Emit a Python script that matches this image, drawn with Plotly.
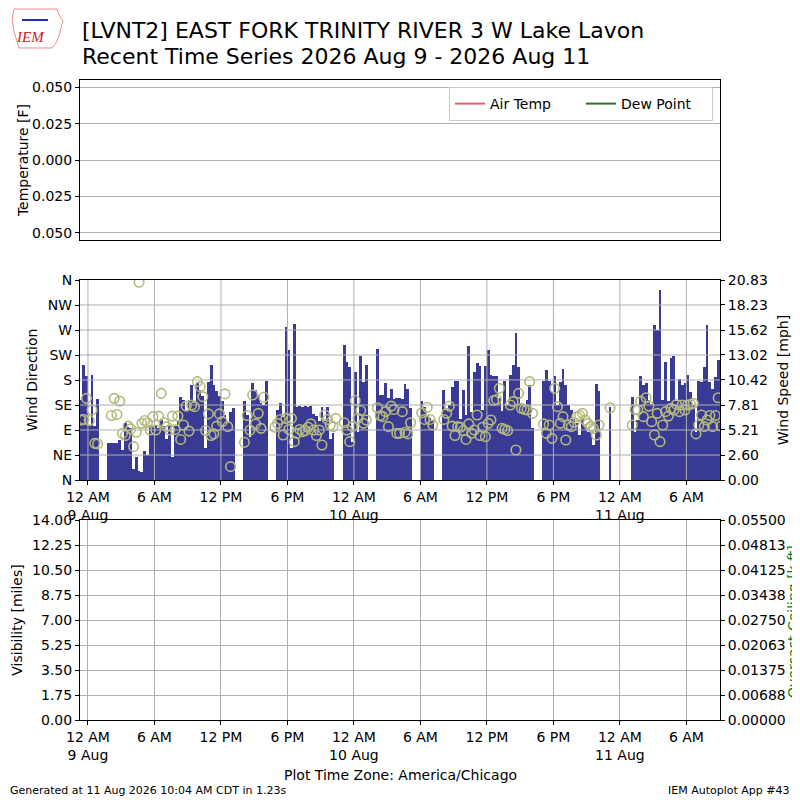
import pandas as pd
import plotly.graph_objects as go

title_lines = ["[LVNT2] EAST FORK TRINITY RIVER 3 W Lake Lavon",
               "Recent Time Series 2026 Aug 9 - 2026 Aug 11"]

# 15 minute observations, first one at 23:22 on 8 Aug (None = missing)
obs_start = "2026-08-08 23:22"
N = None
wind_speed = [
    8.3, 12.0, 10.8, 5.6, 10.9, 5.6, 8.4, N, N, N,
    3.9, 3.9, 3.9, 3.9, 4.2, 3.1, 5.9, 5.5, 5.4, 1.1,
    2.4, 0.9, 0.8, 3.0, 2.6, 5.6, 5.6, 5.7, 5.4, 6.2,
    5.6, 4.3, 5.6, 2.4, 5.6, 6.1, 8.6, 8.3, 7.3, 8.3,
    9.9, 8.0, 10.2, 9.4, 8.7, 3.3, 10.2, 12.0, 9.9, 9.3,
    8.7, 8.2, 6.8, 6.0, 7.1, 7.5, N, N, N, 8.2,
    6.8, 4.5, 10.1, 9.4, 8.9, 8.0, 7.8, 10.3, N, N,
    N, 7.3, 8.0, 6.6, 15.9, 13.5, 3.3, 16.2, 7.6, 7.7,
    7.6, 7.7, 7.6, 7.7, 6.9, 6.7, 6.1, 7.6, 6.1, 7.6,
    4.3, 4.9, N, N, N, 14.1, 12.3, 11.8, 4.0, 11.3,
    5.0, 12.9, 10.2, 12.0, N, N, N, 13.6, 8.9, 8.9,
    10.1, 8.5, 9.5, 8.4, 8.5, 8.5, 8.4, 10.0, 9.5, 7.5,
    N, N, N, 8.2, 7.6, 6.8, 6.5, 6.2, N, N,
    N, 9.4, 7.3, 7.8, 9.7, 10.3, 10.3, 6.4, 9.4, 6.8,
    14.0, 7.1, 11.3, 12.2, 11.9, 7.3, 11.9, 13.5, 10.9, 10.8,
    10.8, 8.5, 7.2, 10.3, 7.8, 10.9, 12.0, 15.3, 11.8, 8.0,
    7.6, 8.3, 9.9, 5.4, N, N, N, 10.3, 11.5, 10.3,
    9.2, 10.8, 7.8, 10.2, 11.6, 9.9, 7.8, 7.3, 6.4, 5.9,
    4.7, 6.4, 5.6, 5.0, 5.0, 3.6, 10.0, 9.3, N, N,
    N, 7.6, N, N, N, N, N, N, N, 8.6,
    5.0, 6.2, 10.8, 9.9, 10.1, 8.3, 7.9, 16.1, 15.6, 19.8,
    8.3, 12.3, 8.2, 12.7, 12.9, 8.2, 10.5, 9.9, 10.1, 10.9,
    9.2, 7.8, 5.0, 10.3, 10.2, 11.8, 16.1, 10.2, 9.5, 10.7,
    12.5, 13.1,
]
wind_dir = [
    108, 109, 147, 107, 126, 66, 65, N, N, N,
    N, 116, 147, 118, 142, 84, 80, 97, 92, 60,
    86, 356, 102, 107, 103, 90, 114, 90, 115, 156,
    103, 96, 90, 115, 91, 115, 73, 99, 133, 88,
    135, 132, 177, 168, 150, 89, 119, 80, 83, 97,
    119, 105, 155, 96, 24, N, N, N, N, 68,
    116, 90, 153, 101, 120, 93, 149, N, N, N,
    95, 102, 109, 81, 111, 91, 111, 69, 84, 91,
    87, 89, 95, 101, 90, 80, 90, 63, 117, 109,
    99, 96, 111, N, N, 103, 90, 69, 96, 143,
    111, 125, 102, 108, N, N, N, 130, 116, 114,
    123, 96, 133, 127, 84, 84, 123, 86, 83, 103,
    N, N, N, 121, 109, 131, 109, 99, N, N,
    N, 109, 120, 133, 97, 80, 96, 95, 89, 73,
    101, 84, 90, 117, 80, 95, 78, 102, 108, 143,
    145, 165, 93, 91, 89, 135, 141, 54, 156, 129,
    127, 126, 177, 120, N, N, N, 101, 84, 99,
    75, 165, 132, 102, 114, 72, 99, 96, 104, 114,
    116, 120, 108, 102, 96, 93, 81, 99, N, N,
    N, 130, N, N, N, N, N, N, N, 99,
    127, 126, 142, 114, 148, 133, 105, 81, 120, 69,
    99, 123, 115, 129, 126, 136, 123, 135, 126, 135,
    136, 138, 83, 99, 117, 96, 108, 116, 96, 116,
    148, 97,
]

time_ticks = ["2026-08-09 00:00", "2026-08-09 06:00", "2026-08-09 12:00",
              "2026-08-09 18:00", "2026-08-10 00:00", "2026-08-10 06:00",
              "2026-08-10 12:00", "2026-08-10 18:00", "2026-08-11 00:00",
              "2026-08-11 06:00"]
time_labels = ["12 AM<br>9 Aug", "6 AM", "12 PM", "6 PM", "12 AM<br>10 Aug",
               "6 AM", "12 PM", "6 PM", "12 AM<br>11 Aug", "6 AM"]
temp_ticks = [-0.05, -0.025, 0, 0.025, 0.05]
temp_labels = ["0.050", "0.025", "0.000", "0.025", "0.050"]
dir_ticks = [0, 45, 90, 135, 180, 225, 270, 315, 360]
dir_labels = ["N", "NE", "E", "SE", "S", "SW", "W", "NW", "N"]
speed_ticks = [0, 2.60, 5.21, 7.81, 10.42, 13.02, 15.62, 18.23, 20.83]
vis_ticks = [0, 1.75, 3.5, 5.25, 7, 8.75, 10.5, 12.25, 14]
ceil_ticks = [0, 0.006875, 0.01375, 0.020625, 0.0275, 0.034375, 0.04125, 0.048125, 0.055]
ceil_labels = ["0.00000", "0.00688", "0.01375", "0.02063", "0.02750",
               "0.03438", "0.04125", "0.04813", "0.05500"]

valid = pd.date_range(obs_start, periods=len(wind_speed), freq="15min")
xrange_ = ["2026-08-08 23:17", "2026-08-11 09:02"]

FONT = "DejaVu Sans"
GRID = "#b0b0b0"
FS = 14

# the page body adds an 8px margin, so lay out on 792px and shift by 8
W = 792
OFF = 8


def fx(p):
    return (p - OFF) / W


def fy(p):
    return 1 - (p - OFF) / W


fig = go.Figure()

# temperature panel (no data)
fig.add_trace(go.Scatter(x=[valid[0]], y=[None], mode="lines", name="Air Temp",
                         line=dict(color="#e06070", width=2), xaxis="x", yaxis="y"))
fig.add_trace(go.Scatter(x=[valid[0]], y=[None], mode="lines", name="Dew Point",
                         line=dict(color="#2f6b33", width=2), xaxis="x", yaxis="y"))

# wind
fig.add_trace(go.Bar(x=valid, y=wind_speed, width=15 * 60 * 1000,
                     marker=dict(color="#393996", line=dict(width=0)),
                     xaxis="x2", yaxis="y2", showlegend=False))
fig.add_trace(go.Scatter(x=valid, y=wind_dir, mode="markers",
                         marker=dict(symbol="circle-open", size=9.5, color="#b5b97c",
                                     line=dict(width=1.6)),
                         xaxis="x2", yaxis="y3", showlegend=False))

# visibility / ceiling panel (no data)
fig.add_trace(go.Scatter(x=[valid[0]], y=[None], mode="lines", xaxis="x3", yaxis="y4",
                         showlegend=False))
fig.add_trace(go.Scatter(x=[valid[0]], y=[None], mode="lines", xaxis="x3", yaxis="y5",
                         showlegend=False))

tick_font = dict(family=FONT, size=FS, color="black")
frame = dict(showline=True, linecolor="black", linewidth=1, mirror=True,
             ticks="outside", ticklen=4, tickcolor="black", tickfont=tick_font,
             zeroline=False, automargin=False)
side_axis = dict(showline=True, linecolor="black", linewidth=1, ticks="outside", ticklen=4,
                 tickcolor="black", tickfont=tick_font, zeroline=False, automargin=False,
                 showgrid=False)
xdom = [fx(80), fx(720)]

fig.update_layout(
    width=W, height=W,
    margin=dict(l=0, r=0, t=0, b=0, autoexpand=False),
    paper_bgcolor="white", plot_bgcolor="white",
    font=dict(family=FONT, size=FS, color="black"),
    bargap=0,
    legend=dict(x=fx(713), y=fy(87), xanchor="right", yanchor="top", orientation="h",
                bgcolor="white", bordercolor="#cccccc", borderwidth=1,
                font=dict(family=FONT, size=FS), itemwidth=30, entrywidth=86),
    xaxis=dict(domain=xdom, anchor="y", range=xrange_, type="date",
               showline=True, linecolor="black", mirror=True, showticklabels=False,
               showgrid=False, ticks="", zeroline=False, automargin=False),
    yaxis=dict(domain=[fy(240), fy(80)], anchor="x", range=[-0.055, 0.055],
               tickvals=temp_ticks, ticktext=temp_labels, showgrid=True, gridcolor=GRID,
               title=dict(text="Temperature [F]", font=tick_font, standoff=0), **frame),
    xaxis2=dict(domain=xdom, anchor="y2", range=xrange_, type="date",
                tickvals=time_ticks, ticktext=time_labels, showgrid=False, **frame),
    yaxis2=dict(domain=[fy(480), fy(280)], anchor="x2", side="right", range=[0, 20.83],
                tickvals=speed_ticks, tickformat=".2f", showgrid=False,
                title=dict(text="Wind Speed [mph]", font=tick_font, standoff=11), **frame),
    yaxis3=dict(overlaying="y2", anchor="x2", side="left", range=[0, 360],
                tickvals=dir_ticks, ticktext=dir_labels,
                title=dict(text="Wind Direction", font=tick_font, standoff=6), **side_axis),
    xaxis3=dict(domain=xdom, anchor="y4", range=xrange_, type="date",
                tickvals=time_ticks, ticktext=time_labels, showgrid=True, gridcolor=GRID,
                **frame),
    yaxis4=dict(domain=[fy(720), fy(520)], anchor="x3", range=[0, 14],
                tickvals=vis_ticks, tickformat=".2f", showgrid=True, gridcolor=GRID,
                title=dict(text="Visibility [miles]", font=tick_font, standoff=6), **frame),
    yaxis5=dict(overlaying="y4", anchor="x3", side="right", range=[0, 0.055],
                tickvals=ceil_ticks, ticktext=ceil_labels, **side_axis),
)

# matplotlib draws the wind panel grid over the bars
shapes = []
for v in speed_ticks[1:-1]:
    shapes.append(dict(type="line", xref="x2 domain", yref="y2", x0=0, x1=1, y0=v, y1=v,
                       line=dict(color=GRID, width=1), layer="above"))
for t in time_ticks:
    shapes.append(dict(type="line", xref="x2", yref="y2 domain", x0=t, x1=t, y0=0, y1=1,
                       line=dict(color=GRID, width=1), layer="above"))

# rough IEM logo outline
outline = [(14, 9), (57, 9), (59, 15), (63, 21), (61, 28), (59, 36), (56, 43),
           (52, 48), (19, 48), (17, 41), (14, 32), (12, 19)]
path = "M " + " L ".join("%.4f,%.4f" % (fx(a), fy(b)) for a, b in outline) + " Z"
shapes.append(dict(type="path", xref="paper", yref="paper", path=path,
                   line=dict(color="#f08a8a", width=1)))
shapes.append(dict(type="line", xref="paper", yref="paper", x0=fx(22), y0=fy(20),
                   x1=fx(48), y1=fy(20), line=dict(color="#2030c0", width=2)))
fig.update_layout(shapes=shapes)


def note(text, x, y, size, xanchor="center", **kw):
    return dict(text=text, x=fx(x), y=fy(y), xref="paper", yref="paper",
                xanchor=xanchor, yanchor="middle", showarrow=False,
                font=dict(family=kw.pop("family", FONT), size=size,
                          color=kw.pop("color", "black")), **kw)


ann = [note(line, 80, ypix, 22, xanchor="left")
       for line, ypix in zip(title_lines, [30, 57])]
ann.append(note("<i>IEM</i>", 30, 37, 15, family="Liberation Serif", color="#d02020"))
# the ceiling label runs off the right edge, as in the original
ann.append(note("Overcast Ceiling [k ft]", 793, 622, FS, color="green", textangle=-90))
ann.append(note("Plot Time Zone: America/Chicago", 400, 775, FS))
ann.append(note("Generated at 11 Aug 2026 10:04 AM CDT in 1.23s", 8, 790, 11, xanchor="left"))
ann.append(note("IEM Autoplot App #43", 792, 790, 11, xanchor="right"))
fig.update_layout(annotations=ann)

fig.write_html("out.html")
